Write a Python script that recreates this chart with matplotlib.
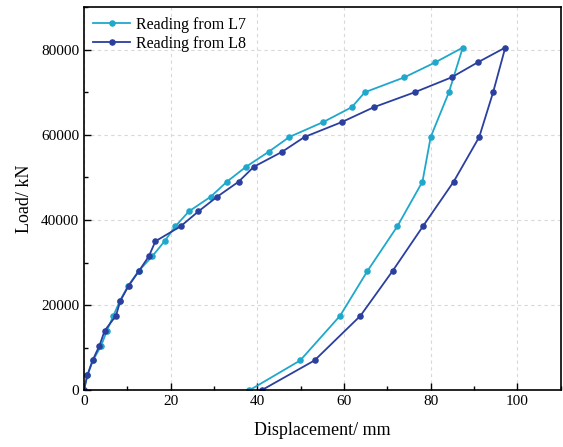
import matplotlib.pyplot as plt
from matplotlib.ticker import MultipleLocator

# load steps (kN) - loading branch then unloading branch
load_up = [0, 3500, 7000, 10500, 14000, 17500, 21000, 24500, 28000, 31500, 35000, 38500,
           42000, 45500, 49000, 52500, 56000, 59500, 63000, 66500, 70000, 73500, 77000, 80500]
load_down = [70000, 59500, 49000, 38500, 28000, 17500, 7000, 0]

# displacement readings (mm)
l7_up = [0, 0.8, 2.1, 4.0, 5.3, 6.8, 8.3, 10.2, 12.6, 15.8, 18.6, 21.1,
         24.2, 29.3, 33.0, 37.4, 42.6, 47.4, 55.2, 61.8, 64.8, 73.9, 81.0, 87.4]
l7_down = [84.2, 80.0, 78.1, 72.3, 65.4, 59.1, 49.9, 38.2]

l8_up = [0, 0.8, 2.0, 3.6, 4.8, 7.4, 8.4, 10.3, 12.7, 15.0, 16.5, 22.3,
         26.4, 30.8, 35.7, 39.2, 45.7, 50.9, 59.5, 66.9, 76.3, 84.8, 90.8, 97.2]
l8_down = [94.4, 91.2, 85.3, 78.2, 71.2, 63.8, 53.2, 41.0]

plt.rcParams['font.family'] = ['Liberation Serif', 'DejaVu Serif']

fig = plt.figure(figsize=(5.63, 4.47), dpi=100)
ax = fig.add_axes([0.149, 0.127, 0.847, 0.857])

ax.plot(l7_up + l7_down, load_up + load_down, color='#1fa8cc', lw=1.3,
        marker='o', ms=3.7, label='Reading from L7')
ax.plot(l8_up + l8_down, load_up + load_down, color='#2b3f9e', lw=1.3,
        marker='o', ms=3.7, label='Reading from L8')

ax.set_xlim(0, 110)
ax.set_ylim(0, 90000)
ax.xaxis.set_major_locator(MultipleLocator(20))
ax.xaxis.set_minor_locator(MultipleLocator(10))
ax.yaxis.set_major_locator(MultipleLocator(20000))
ax.yaxis.set_minor_locator(MultipleLocator(10000))
ax.tick_params(which='both', direction='in', top=False, right=False, labelsize=11)
ax.tick_params(which='major', length=5, width=1)
ax.tick_params(which='minor', length=3, width=1)
ax.grid(True, which='major', ls=(0, (3, 3)), color='#d9d9d9', lw=0.8)
for s in ax.spines.values():
    s.set_linewidth(1.2)

ax.set_xlabel('Displacement/ mm', fontsize=13, labelpad=10)
ax.set_ylabel('Load/ kN', fontsize=13, labelpad=6)
ax.legend(loc='upper left', frameon=False, fontsize=11.5, handlelength=2.3,
          handletextpad=0.35, borderaxespad=0.2, labelspacing=0.2)

fig.savefig('out.png', dpi=100)
